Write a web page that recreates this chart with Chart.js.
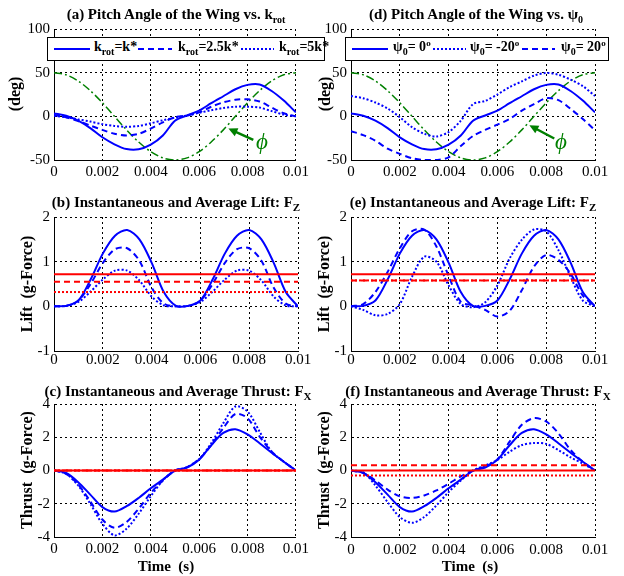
<!DOCTYPE html>
<html>
<head>
<meta charset="utf-8">
<title>Pitch angle, lift and thrust over one stroke</title>
<script src="https://cdn.jsdelivr.net/npm/chart.js@4.4.1/dist/chart.umd.min.js"></script>
<style>
  html, body { margin:0; padding:0; background:#fff; }
  #fig { position:relative; width:624px; height:576px; overflow:hidden;
         font-family:'Liberation Serif','Times New Roman',serif; color:#000; }
  #fig canvas { position:absolute; }
  .ttl { position:absolute; font-weight:bold; font-size:15px; line-height:15px; white-space:nowrap; transform:translate(-50%,-50%); }
  .ylab { position:absolute; font-weight:bold; font-size:16px; line-height:16px; white-space:pre; transform:translate(-50%,-50%) rotate(-90deg); }
  .xlab { position:absolute; font-weight:bold; font-size:15px; line-height:15px; white-space:pre; transform:translate(-50%,-50%); }
  .sub { position:relative; top:4px; font-size:10px; }
  .sup { position:relative; top:-5px; font-size:9px; }
  .legend { position:absolute; top:37px; height:24px; border:1px solid #000; background:#fff; z-index:2; box-sizing:border-box; }
  .legend svg { position:absolute; top:0; left:0; }
  .legend .item { position:absolute; top:2px; font-weight:bold; font-size:14px; line-height:14px; white-space:nowrap; }
</style>
</head>
<body>
<div id="fig">
  <canvas id="cA" width="312" height="185" style="left:0;top:0"></canvas>
  <canvas id="cD" width="312" height="185" style="left:312px;top:0"></canvas>
  <canvas id="cB" width="312" height="185" style="left:0;top:185px"></canvas>
  <canvas id="cE" width="312" height="185" style="left:312px;top:185px"></canvas>
  <canvas id="cC" width="312" height="206" style="left:0;top:370px"></canvas>
  <canvas id="cF" width="312" height="206" style="left:312px;top:370px"></canvas>

  <div class="ttl" style="left:176px;top:15px">(a) Pitch Angle of the Wing vs. k<span class="sub">rot</span></div>
  <div class="ttl" style="left:476px;top:15px">(d) Pitch Angle of the Wing vs. ψ<span class="sub">0</span></div>
  <div class="ttl" style="left:176px;top:203px">(b) Instantaneous and Average Lift: F<span class="sub" style="font-size:11px">Z</span></div>
  <div class="ttl" style="left:473px;top:203px">(e) Instantaneous and Average Lift: F<span class="sub" style="font-size:11px">Z</span></div>
  <div class="ttl" style="left:178px;top:392px">(c) Instantaneous and Average Thrust: F<span class="sub" style="font-size:11px">X</span></div>
  <div class="ttl" style="left:478px;top:392px">(f) Instantaneous and Average Thrust: F<span class="sub" style="font-size:11px">X</span></div>

  <div class="ylab" style="left:15px;top:94px">(deg)</div>
  <div class="ylab" style="left:325px;top:94px">(deg)</div>
  <div class="ylab" style="left:27px;top:284px">Lift  (g-Force)</div>
  <div class="ylab" style="left:324px;top:284px">Lift  (g-Force)</div>
  <div class="ylab" style="left:27px;top:470px">Thrust  (g-Force)</div>
  <div class="ylab" style="left:324px;top:470px">Thrust  (g-Force)</div>
  <div class="xlab" style="left:166px;top:566px">Time  (s)</div>
  <div class="xlab" style="left:470px;top:566px">Time  (s)</div>

  <div class="legend" style="left:47px;width:278px">
    <svg width="276" height="22"><line x1="6" y1="11" x2="42" y2="11" stroke="#0000ff" stroke-width="2"/>
      <line x1="90" y1="11" x2="124" y2="11" stroke="#0000ff" stroke-width="2" stroke-dasharray="6 4"/>
      <line x1="193" y1="11" x2="226" y2="11" stroke="#0000ff" stroke-width="2" stroke-dasharray="2 2"/></svg>
    <div class="item" style="left:46px">k<span class="sub">rot</span>=k*</div>
    <div class="item" style="left:130px">k<span class="sub">rot</span>=2.5k*</div>
    <div class="item" style="left:231px">k<span class="sub">rot</span>=5k*</div>
  </div>
  <div class="legend" style="left:345px;width:264px">
    <svg width="262" height="22"><line x1="6" y1="11" x2="42" y2="11" stroke="#0000ff" stroke-width="2"/>
      <line x1="87" y1="11" x2="120" y2="11" stroke="#0000ff" stroke-width="2" stroke-dasharray="2 2"/>
      <line x1="176" y1="11" x2="209" y2="11" stroke="#0000ff" stroke-width="2" stroke-dasharray="6 4"/></svg>
    <div class="item" style="left:47px">ψ<span class="sub">0</span>= 0<span class="sup">o</span></div>
    <div class="item" style="left:124px">ψ<span class="sub">0</span>= -20<span class="sup">o</span></div>
    <div class="item" style="left:215px">ψ<span class="sub">0</span>= 20<span class="sup">o</span></div>
  </div>
</div>

<script>
// ---------- data: one stroke, 0 .. 0.01 s ----------
const T = [0, 0.0005, 0.001, 0.0015, 0.002, 0.0025, 0.003, 0.0035, 0.004, 0.0045, 0.005,
           0.0055, 0.006, 0.0065, 0.007, 0.0075, 0.008, 0.0085, 0.009, 0.0095, 0.01];
const X_TICKS = [0, 0.002, 0.004, 0.006, 0.008, 0.01];
const X_TICK_LABELS = ['0', '0.002', '0.004', '0.006', '0.008', '0.01'];
const PITCH_TICKS = [-50, 0, 50, 100];
const LIFT_TICKS = [-1, 0, 1, 2];
const THRUST_TICKS = [-4, -2, 0, 2, 4];

// stroke angle phi (deg)
const PHI = [50, 47.6, 40.5, 29.4, 15.5, 0, -15.5, -29.4, -40.5, -47.6, -50,
             -47.6, -40.5, -29.4, -15.5, 0, 15.5, 29.4, 40.5, 47.6, 50];

// pitch angle (deg) -- k_rot sweep; the k* curve is also the psi0 = 0 case
const PITCH_K1  = [3.4, 0.7, -5, -13.5, -24, -32, -37.5, -37.8, -32.5, -22, -5,
                   1, 6.5, 15, 23, 31, 36, 36.5, 29, 18, 4.5];
const PITCH_K25 = [1.5, -1, -5.5, -10.5, -15.5, -20, -22, -20, -14, -7, -1,
                   1, 4.5, 11, 16, 19, 19.5, 17, 10, 3.5, 0];
const PITCH_K5  = [0.5, -1, -3.5, -6, -9, -11, -12, -11, -8, -4.5, -1.5,
                   1, 4, 7, 9.5, 11, 11, 10, 6, 2, 0];
// pitch angle (deg) -- psi0 sweep
const PITCH_PM20 = [23.3, 20.7, 15.8, 9, -1, -12.4, -20, -23, -18, -5, 14,
                    17.7, 25, 33.5, 40, 46.6, 49.6, 47.7, 42, 34.6, 23.3];
const PITCH_P20  = [-17, -21.5, -28, -37, -43, -48, -50, -50, -47, -34, -22.5,
                    -15.5, -9.5, -3, 6.5, 14, 20.7, 18.5, 8.5, -3, -16];

// lift (g) -- k_rot sweep
const LIFT_K1  = [0, 0.01, 0.13, 0.6, 1.18, 1.58, 1.71, 1.5, 0.98, 0.32, 0.01,
                  0.01, 0.13, 0.6, 1.18, 1.58, 1.71, 1.5, 0.98, 0.32, 0];
const LIFT_K25 = [0, 0.01, 0.13, 0.5, 0.97, 1.28, 1.3, 1.02, 0.42, 0.06, 0,
                  0.01, 0.13, 0.5, 0.97, 1.28, 1.3, 1.02, 0.42, 0.06, 0];
const LIFT_K5  = [0, 0.01, 0.1, 0.33, 0.6, 0.8, 0.8, 0.58, 0.22, 0.02, 0,
                  0.01, 0.1, 0.33, 0.6, 0.8, 0.8, 0.58, 0.22, 0.02, 0];
const AVG_LIFT_K = [0.72, 0.55, 0.32];   // k*, 2.5k*, 5k*
// lift (g) -- psi0 sweep
const LIFT_PM20 = [0, -0.08, -0.2, -0.17, 0.05, 0.66, 1.11, 1.0, 0.47, 0.05, -0.02,
                   0.09, 0.47, 1.07, 1.49, 1.72, 1.68, 1.26, 0.66, 0.13, 0];
const LIFT_P20  = [0, 0.05, 0.32, 0.77, 1.3, 1.68, 1.72, 1.34, 0.68, 0.1, 0.02,
                   -0.08, -0.23, -0.1, 0.36, 0.89, 1.15, 1.04, 0.73, 0.24, 0];
const AVG_LIFT_P = [0.72, 0.58, 0.58];   // 0, -20, +20 deg

// thrust (g) -- k_rot sweep
const THRUST_K1  = [0, -0.15, -0.7, -1.45, -2.2, -2.47, -2.15, -1.65, -1.07, -0.55, -0.02,
                    0.18, 0.65, 1.52, 2.26, 2.48, 2.17, 1.64, 1.07, 0.53, 0];
const THRUST_K25 = [0, -0.2, -0.85, -1.85, -2.95, -3.45, -3.1, -2.3, -1.35, -0.6, 0,
                    0.2, 0.68, 1.53, 2.55, 3.4, 3.15, 2.04, 1.13, 0.53, 0];
const THRUST_K5  = [0, -0.2, -0.9, -2.0, -3.2, -3.9, -3.5, -2.6, -1.55, -0.6, 0,
                    0.2, 0.68, 1.64, 2.85, 3.85, 3.55, 2.34, 1.13, 0.53, 0];
const AVG_THRUST_K = [0, 0, 0];
// thrust (g) -- psi0 sweep
const THRUST_PM20 = [0, -0.1, -0.9, -1.9, -2.8, -3.15, -2.8, -2.1, -1.3, -0.6, 0,
                     0.3, 0.63, 1.13, 1.53, 1.65, 1.6, 1.23, 0.79, 0.42, 0];
const THRUST_P20  = [0, -0.15, -0.6, -1.15, -1.55, -1.65, -1.5, -1.2, -0.8, -0.35, 0,
                     0.25, 0.67, 1.74, 2.75, 3.15, 2.95, 2.24, 1.23, 0.53, 0];
const AVG_THRUST_P = [0, -0.3, 0.32];

// phi arrow: tail, tip and label position in (s, deg)
const PHI_NOTE_A = { tail: [0.00824, -27], tip: [0.00721, -14], label: [0.0086, -30] };
const PHI_NOTE_D = { tail: [0.00833, -25.4], tip: [0.00731, -10.2], label: [0.0086, -31] };

// ---------- styles ----------
const BLUE = '#0000ff', RED = '#ff0000', GREEN = '#008000';
const SOLID = [], DASHED = [6, 4], DOTTED = [2, 2], DASHDOT = [8, 3, 2, 3];
const SERIF = "'Liberation Serif', 'Times New Roman', serif";
const GRID = { color: '#000', lineWidth: 1, drawTicks: false };
const BORDER = { display: true, color: '#000', width: 1, dash: [2, 3] };
const TICK = { color: '#000', font: { family: SERIF, size: 15 }, autoSkip: false, maxRotation: 0 };

const curve = (ys, color, dash, width = 2) => ({
  data: T.map((t, i) => ({ x: t, y: ys[i] })),
  borderColor: color, borderDash: dash, borderWidth: width,
  pointRadius: 0, tension: 0.3, fill: false
});
const level = (v, dash) => ({
  data: [{ x: X_TICKS[0], y: v }, { x: X_TICKS[X_TICKS.length - 1], y: v }],
  borderColor: RED, borderDash: dash, borderWidth: 2, pointRadius: 0, fill: false
});

// arrow + phi label drawn in data coordinates
const phiArrow = {
  id: 'phiArrow',
  afterDatasetsDraw(chart, args, opts) {
    if (!opts || !opts.tip) return;
    const { ctx, scales: { x, y } } = chart;
    const x0 = x.getPixelForValue(opts.tail[0]), y0 = y.getPixelForValue(opts.tail[1]);
    const x1 = x.getPixelForValue(opts.tip[0]), y1 = y.getPixelForValue(opts.tip[1]);
    const a = Math.atan2(y1 - y0, x1 - x0), head = 10;
    ctx.save();
    ctx.strokeStyle = ctx.fillStyle = GREEN;
    ctx.lineWidth = 2.5;
    ctx.beginPath(); ctx.moveTo(x0, y0);
    ctx.lineTo(x1 - 0.8 * head * Math.cos(a), y1 - 0.8 * head * Math.sin(a)); ctx.stroke();
    ctx.beginPath(); ctx.moveTo(x1, y1);
    ctx.lineTo(x1 - head * Math.cos(a - 0.45), y1 - head * Math.sin(a - 0.45));
    ctx.lineTo(x1 - head * Math.cos(a + 0.45), y1 - head * Math.sin(a + 0.45));
    ctx.closePath(); ctx.fill();
    ctx.font = 'italic 23px ' + SERIF;
    ctx.textAlign = 'center'; ctx.textBaseline = 'middle';
    ctx.fillText('ϕ', x.getPixelForValue(opts.label[0]), y.getPixelForValue(opts.label[1]));
    ctx.restore();
  }
};

// g: padding top/right, y-axis width, x-axis height, x tick padding
function panel(id, g, yTicks, datasets, note) {
  return new Chart(document.getElementById(id), {
    type: 'line',
    data: { datasets },
    plugins: note ? [phiArrow] : [],
    options: {
      responsive: false, animation: false, devicePixelRatio: 1,
      layout: { padding: { left: 0, top: g.top, right: g.right, bottom: 0 } },
      plugins: { legend: { display: false }, tooltip: { enabled: false }, phiArrow: note || false },
      scales: {
        x: {
          type: 'linear', min: X_TICKS[0], max: X_TICKS[X_TICKS.length - 1],
          afterBuildTicks: s => { s.ticks = X_TICKS.map(v => ({ value: v })); },
          afterFit: s => { s.height = g.xH; },
          grid: GRID, border: BORDER,
          ticks: { ...TICK, padding: g.xPad, callback: (v, i) => X_TICK_LABELS[i] }
        },
        y: {
          min: yTicks[0], max: yTicks[yTicks.length - 1],
          afterBuildTicks: s => { s.ticks = yTicks.map(v => ({ value: v })); },
          afterFit: s => { s.width = g.yW; },
          grid: GRID, border: BORDER,
          ticks: { ...TICK, padding: 4, callback: v => String(v) }
        }
      }
    }
  });
}

const LEFT_COL  = { right: 14, yW: 54 };
const RIGHT_COL = { right: 29, yW: 39 };

panel('cA', { ...LEFT_COL, top: 29, xH: 25, xPad: 3 }, PITCH_TICKS, [
  curve(PITCH_K1, BLUE, SOLID), curve(PITCH_K25, BLUE, DASHED), curve(PITCH_K5, BLUE, DOTTED),
  curve(PHI, GREEN, DASHDOT, 1.5)
], PHI_NOTE_A);

panel('cD', { ...RIGHT_COL, top: 29, xH: 25, xPad: 3 }, PITCH_TICKS, [
  curve(PITCH_K1, BLUE, SOLID), curve(PITCH_PM20, BLUE, DOTTED), curve(PITCH_P20, BLUE, DASHED),
  curve(PHI, GREEN, DASHDOT, 1.5)
], PHI_NOTE_D);

panel('cB', { ...LEFT_COL, top: 32, xH: 19, xPad: 0 }, LIFT_TICKS, [
  level(AVG_LIFT_K[0], SOLID), level(AVG_LIFT_K[1], DASHED), level(AVG_LIFT_K[2], DOTTED),
  curve(LIFT_K1, BLUE, SOLID), curve(LIFT_K25, BLUE, DASHED), curve(LIFT_K5, BLUE, DOTTED)
]);

panel('cE', { ...RIGHT_COL, top: 32, xH: 19, xPad: 0 }, LIFT_TICKS, [
  level(AVG_LIFT_P[0], SOLID), level(AVG_LIFT_P[2], DASHED), level(AVG_LIFT_P[1], DOTTED),
  curve(LIFT_K1, BLUE, SOLID), curve(LIFT_PM20, BLUE, DOTTED), curve(LIFT_P20, BLUE, DASHED)
]);

panel('cC', { ...LEFT_COL, top: 34, xH: 39, xPad: 3 }, THRUST_TICKS, [
  level(AVG_THRUST_K[0], SOLID), level(AVG_THRUST_K[1], DASHED), level(AVG_THRUST_K[2], DOTTED),
  curve(THRUST_K1, BLUE, SOLID), curve(THRUST_K25, BLUE, DASHED), curve(THRUST_K5, BLUE, DOTTED)
]);

panel('cF', { ...RIGHT_COL, top: 34, xH: 39, xPad: 4 }, THRUST_TICKS, [
  level(AVG_THRUST_P[0], SOLID), level(AVG_THRUST_P[2], DASHED), level(AVG_THRUST_P[1], DOTTED),
  curve(THRUST_K1, BLUE, SOLID), curve(THRUST_PM20, BLUE, DOTTED), curve(THRUST_P20, BLUE, DASHED)
]);
</script>
</body>
</html>
